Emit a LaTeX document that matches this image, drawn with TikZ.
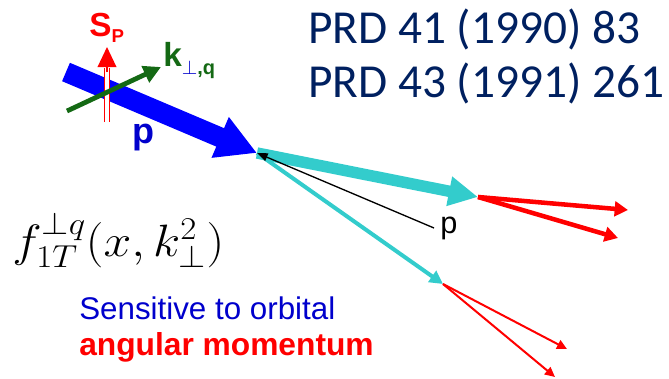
\RequirePackage{fix-cm}
\documentclass[tikz,border=0pt]{standalone}
\usepackage{amsmath}
\usepackage[no-math]{fontspec}
\setmainfont{Liberation Sans}
\newfontfamily\calibri{Carlito}
\usepackage{tikz}
\usetikzlibrary{arrows.meta, calc, positioning}
\definecolor{navy}{RGB}{0,32,96}
\definecolor{jetcyan}{RGB}{51,204,204}
\definecolor{kgreen}{RGB}{20,105,20}
\definecolor{txtblue}{RGB}{0,0,204}

\begin{document}
\begin{tikzpicture}[
    x=0.75pt, y=-0.75pt,
    proton/.style={draw=blue, line width=15pt, -{Triangle[length=30pt,width=31pt]}},
    spinline/.style={draw=red, line width=0.9pt, double=white, double distance=2.4pt},
    kvec/.style={draw=kgreen, line width=3.6pt, -{Triangle[length=13pt,width=13pt]}},
    fatjet/.style={draw=jetcyan, line width=8.6pt, -{Triangle[length=22pt,width=21pt]}},
    thinjet/.style={draw=jetcyan, line width=3pt, -{Triangle[length=10pt,width=10pt]}},
    hadA/.style={draw=red, line width=3.4pt, -{Triangle[length=10pt,width=11pt]}},
    hadB/.style={draw=red, line width=1.5pt, -{Triangle[length=7.5pt,width=7pt]}},
    lbl/.style={anchor=base west, inner sep=0pt}
]
\useasboundingbox (0,0) rectangle (669,379);

\coordinate (pstart) at (66,72);
\coordinate (vtx) at (257,153);
\coordinate (jetA) at (478,197);
\coordinate (jetB) at (443,284);
\coordinate (spbot) at (107,122);
\coordinate (spmid) at (107,68);
\coordinate (sptip) at (107,47);
\coordinate (kstart) at (67,111);
\coordinate (ktip) at (161,67);
\coordinate (pfrom) at (434,228);

% incoming proton with spin and k_perp
\draw[proton] (pstart) -- (vtx);
\draw[spinline] (spbot) -- (spmid);
\draw[draw=red, line width=1pt, -{Triangle[length=15pt,width=14pt]}] ($(spmid)+(0,4)$) -- (sptip);
\draw[kvec] (kstart) -- (ktip);

\node[lbl, text=red, font=\bfseries\fontsize{25}{25}\selectfont] (spin) at (89,36) {S\raisebox{-5pt}{\fontsize{14}{14}\selectfont P}};
\node[lbl, text=kgreen, font=\bfseries\fontsize{25}{25}\selectfont] (klab) at (163,66) {k\raisebox{-6pt}{\fontsize{15}{15}\selectfont\textcolor{txtblue}{$\perp$},q}};
\node[lbl, text=txtblue, font=\bfseries\fontsize{27}{27}\selectfont] (plab) at (132,143) {p};

% outgoing jets
\draw[fatjet] (vtx) -- (jetA);
\draw[thinjet] (vtx) -- (jetB);
\draw[black, line width=1pt, -{Triangle[length=8pt,width=6pt]}] (pfrom) -- (vtx);
\node[lbl, font=\fontsize{23}{23}\selectfont] (pout) at (440,233) {p};

\draw[hadA] (jetA) -- (628,210);
\draw[hadA] (jetA) -- (618,238);
\draw[hadB] (jetB) -- (567,349);
\draw[hadB] (jetB) -- (555,377);

% texts
\node[lbl] (tmd) at (12,256) {\scalebox{1.1}[1]{\fontsize{34}{34}\selectfont $f_{1T}^{\perp q}(x,k_\perp^2)$}};
\node[lbl, text=txtblue, font=\fontsize{23.5}{28}\selectfont] (sens) at (79,319) {Sensitive to orbital};
\node[lbl, text=red, font=\bfseries\fontsize{23.8}{28}\selectfont] (oam) at (79,355) {angular momentum};
\node[lbl, text=navy, font=\calibri\fontsize{35.5}{40}\selectfont] (prdA) at (308,43) {PRD 41 (1990) 83};
\node[lbl, text=navy, font=\calibri\fontsize{35.5}{40}\selectfont] (prdB) at (308,97) {PRD 43 (1991) 261};
\end{tikzpicture}
\end{document}
